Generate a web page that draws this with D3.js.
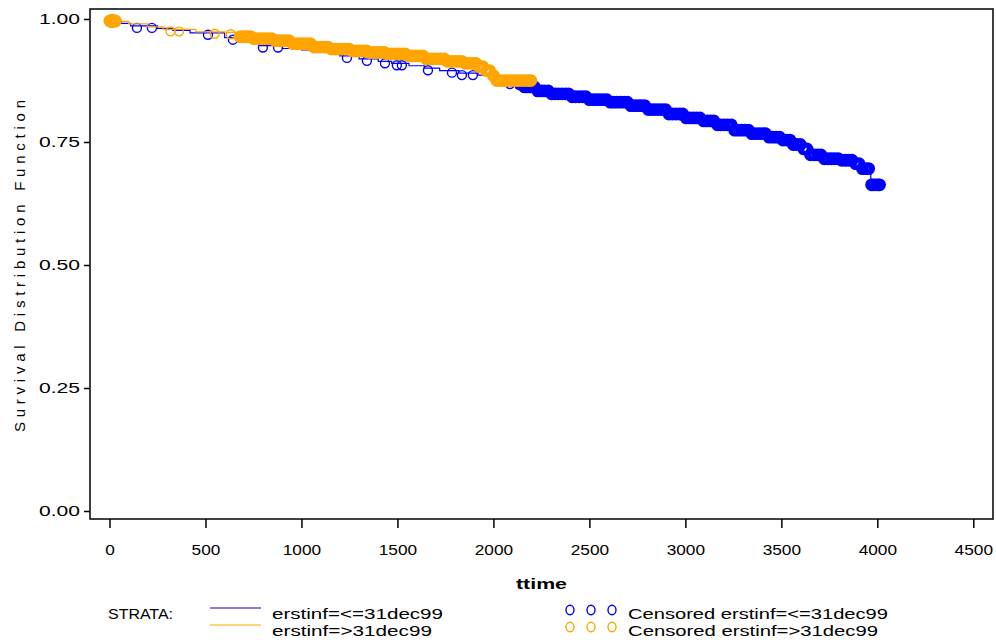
<!DOCTYPE html>
<html>
<head>
<meta charset="utf-8">
<script src="https://cdn.jsdelivr.net/npm/d3@7"></script>
<style>
	body { margin: 0; background: #fff; }
	text { font-family: "Liberation Sans", Arial, sans-serif; fill: #000; }
</style>
</head>
<body>
<div id="chart"></div>
<script>
'use strict';

// KM step knots (time, survival)
const blueTime = [0, 25, 60, 110, 250, 330, 420, 600, 700, 780, 900, 1000, 1100, 1200, 1300, 1400, 1470, 1560, 1640, 1720,
	1820, 1920, 2000, 2060, 2150, 2230, 2300, 2400, 2500, 2600, 2700, 2800, 2900, 3000, 3080, 3160, 3250, 3330, 3420, 3500,
	3560, 3600, 3650, 3720, 3800, 3880, 3920, 3966];
const blueSurv = [1.000, 0.996, 0.991, 0.986, 0.981, 0.977, 0.972, 0.962, 0.955, 0.946, 0.940, 0.937, 0.932, 0.925, 0.919, 0.914, 0.910, 0.905, 0.900, 0.895,
	0.890, 0.886, 0.879, 0.872, 0.866, 0.858, 0.852, 0.846, 0.840, 0.835, 0.828, 0.820, 0.811, 0.803, 0.797, 0.789, 0.778, 0.771, 0.764, 0.758,
	0.749, 0.740, 0.728, 0.720, 0.717, 0.710, 0.700, 0.667];

const orangeTime = [0, 40, 100, 200, 280, 450, 600, 660, 740, 850, 950, 1050, 1150, 1250, 1350, 1450, 1550, 1650, 1750, 1850,
	1920, 1960, 1990, 2010];
const orangeSurv = [1.000, 0.995, 0.990, 0.984, 0.979, 0.974, 0.973, 0.968, 0.964, 0.960, 0.954, 0.947, 0.943, 0.939, 0.936, 0.933, 0.929, 0.923, 0.918, 0.914,
	0.907, 0.899, 0.889, 0.879];

// censoring times
const blueCensor = [8, 15, 143, 221, 513, 643, 799, 878, 1237, 1341, 1435, 1497, 1523, 1659, 1784, 1836, 1893, 2086, 2138,
	2162, 2178, 2195, 2214, 2231, 2250, 2266, 2285, 2303, 2320, 2338, 2357, 2375, 2392, 2410, 2428, 2447, 2465, 2482, 2500,
	2519, 2537, 2554, 2572, 2591, 2609, 2626, 2644, 2663, 2681, 2698, 2716, 2735, 2753, 2770, 2788, 2807, 2825, 2842, 2860,
	2879, 2897, 2914, 2932, 2951, 2969, 2986, 3004, 3023, 3041, 3058, 3076, 3095, 3113, 3130, 3148, 3167, 3185, 3202, 3220,
	3239, 3257, 3274, 3292, 3311, 3329, 3346, 3364, 3383, 3401, 3418, 3436, 3455, 3473, 3490, 3508, 3527, 3545, 3562, 3580,
	3599, 3617, 3634, 3652, 3671, 3689, 3706, 3724, 3743, 3761, 3778, 3796, 3815, 3833, 3850, 3868, 3887, 3905, 3922, 3940,
	3955, 3970, 3980, 3992, 4004, 4012];
const orangeCensor = [2, 5, 9, 13, 17, 21, 26, 31, 318, 362, 548, 632,
	680, 698, 716, 735, 753, 771, 790, 808, 826, 845, 863, 881, 900, 918, 936, 955, 973, 991, 1010, 1028, 1046, 1065, 1083,
	1101, 1120, 1138, 1156, 1175, 1193, 1211, 1230, 1248, 1266, 1285, 1303, 1321, 1340, 1358, 1376, 1395, 1413, 1431, 1450,
	1468, 1486, 1505, 1523, 1541, 1560, 1578, 1596, 1615, 1633, 1651, 1670, 1688, 1706, 1725, 1743, 1761, 1780, 1798, 1816,
	1835, 1853, 1871, 1890, 1908, 1926, 1945, 1963, 1981, 2000, 2018, 2036, 2055, 2073, 2091, 2110, 2128, 2146, 2165, 2183, 2195];

const xTicks = [0, 500, 1000, 1500, 2000, 2500, 3000, 3500, 4000, 4500];
const yTicks = [0, 0.25, 0.5, 0.75, 1];

const strataLabels = ["erstinf=<=31dec99", "erstinf=>31dec99"];
const censorLabels = ["Censored erstinf=<=31dec99", "Censored erstinf=>31dec99"];
const strataColors = ["#0000ff", "#ffa500"];

const width = 996, height = 644;
const frame = { left: 90, top: 9, right: 993, bottom: 519 };

const svg = d3.select("#chart")
	.append("svg")
		.attr("width", width)
		.attr("height", height)
	;

const xScale = d3.scaleLinear()
	.domain([0, 4500])
	.range([109.5, 973.3])
	;
const yScale = d3.scaleLinear()
	.domain([0, 1])
	.range([511, 19])
	;

// frame
svg.append("rect")
	.attr("x", frame.left)
	.attr("y", frame.top)
	.attr("width", frame.right - frame.left)
	.attr("height", frame.bottom - frame.top)
	.attr("fill", "none")
	.attr("stroke", "#000")
	.attr("stroke-width", 1.5)
	;

// axes
const yAxis = svg.append("g")
	.attr("transform", `translate(${frame.left},0)`)
	.call(d3.axisLeft(yScale).tickValues(yTicks).tickSize(6).tickPadding(4).tickFormat(d3.format(".2f")))
	;
const xAxis = svg.append("g")
	.attr("transform", `translate(0,${frame.bottom})`)
	.call(d3.axisBottom(xScale).tickValues(xTicks).tickSize(9).tickPadding(17).tickFormat(d3.format("d")))
	;
[xAxis, yAxis].forEach(ax => {
	ax.select(".domain").remove();
	ax.selectAll(".tick line").attr("stroke", "#000").attr("stroke-width", 1.5);
	ax.selectAll(".tick text")
		.attr("font-size", 14)
		.attr("font-family", null)
		.attr("fill", "#000")
		.attr("lengthAdjust", "spacingAndGlyphs")
		;
});
yAxis.selectAll(".tick text").attr("textLength", 41);
xAxis.selectAll(".tick text").attr("textLength", d => String(d).length * 9.6);

// step lookup
function survAt(times, surv, t) {
	const i = d3.bisectRight(times, t) - 1;
	return surv[Math.max(0, i)];
}

// is a censor time packed among its neighbours (the solid band look)
function packed(cens, i) {
	const prev = i > 0 ? cens[i] - cens[i-1] : Infinity;
	const next = i < cens.length - 1 ? cens[i+1] - cens[i] : Infinity;
	return Math.min(prev, next) < 25;
}

const series = [
	{ time: blueTime, surv: blueSurv, cens: blueCensor, color: strataColors[0] },
	{ time: orangeTime, surv: orangeSurv, cens: orangeCensor, color: strataColors[1] },
];

const lineGenerator = d3.line()
	.x(d => xScale(d[0]))
	.y(d => yScale(d[1]))
	.curve(d3.curveStepAfter)
	;

series.forEach(s => {
	const pts = s.time.map((t, i) => [t, s.surv[i]]);
	const tEnd = d3.max(s.cens);
	pts.push([tEnd, survAt(s.time, s.surv, tEnd)]);

	svg.append("path")
		.datum(pts)
		.attr("d", lineGenerator)
		.attr("fill", "none")
		.attr("stroke", s.color)
		.attr("stroke-width", 1.2)
		;

	svg.append("g")
		.selectAll("circle")
		.data(s.cens)
		.join("circle")
			.attr("cx", d => xScale(d))
			.attr("cy", d => yScale(survAt(s.time, s.surv, d)) + 2)
			.attr("r", (d, i) => packed(s.cens, i) ? 4.6 : 4.5)
			.attr("fill", "none")
			.attr("stroke", s.color)
			.attr("stroke-width", (d, i) => packed(s.cens, i) ? 3.6 : 1.4)
		;
});

// axis titles
svg.append("text")
	.attr("transform", "translate(25,266) rotate(-90)")
	.attr("text-anchor", "middle")
	.attr("font-size", 15)
	.attr("textLength", 332)
	.attr("lengthAdjust", "spacing")
	.text("Survival Distribution Function")
	;
svg.append("text")
	.attr("x", (frame.left + frame.right) / 2)
	.attr("y", 589)
	.attr("text-anchor", "middle")
	.attr("font-size", 14)
	.attr("font-weight", "bold")
	.attr("textLength", 51)
	.attr("lengthAdjust", "spacingAndGlyphs")
	.text("ttime")
	;

// legend
svg.append("text")
	.attr("x", 108)
	.attr("y", 619)
	.attr("font-size", 14)
	.attr("textLength", 65)
	.attr("lengthAdjust", "spacingAndGlyphs")
	.text("STRATA:")
	;

const rowY = [619, 636];
const strataWidths = [171, 160];
const censorWidths = [260, 250];

strataLabels.forEach((lab, i) => {
	svg.append("line")
		.attr("x1", 210).attr("x2", 261)
		.attr("y1", rowY[i] - 11).attr("y2", rowY[i] - 11)
		.attr("stroke", i === 0 ? "#0000cc" : strataColors[i])
		.attr("stroke-width", 1.2)
		;
	svg.append("text")
		.attr("x", 272)
		.attr("y", rowY[i])
		.attr("font-size", 14)
		.attr("textLength", strataWidths[i])
		.attr("lengthAdjust", "spacingAndGlyphs")
		.text(lab)
		;
});

censorLabels.forEach((lab, i) => {
	svg.append("g")
		.selectAll("ellipse")
		.data([570, 591, 612])
		.join("ellipse")
			.attr("cx", d => d)
			.attr("cy", rowY[i] - 9)
			.attr("rx", 4)
			.attr("ry", 4.8)
			.attr("fill", "none")
			.attr("stroke", strataColors[i])
			.attr("stroke-width", 1.4)
		;
	svg.append("text")
		.attr("x", 628)
		.attr("y", rowY[i])
		.attr("font-size", 14)
		.attr("textLength", censorWidths[i])
		.attr("lengthAdjust", "spacingAndGlyphs")
		.text(lab)
		;
});
</script>
</body>
</html>
